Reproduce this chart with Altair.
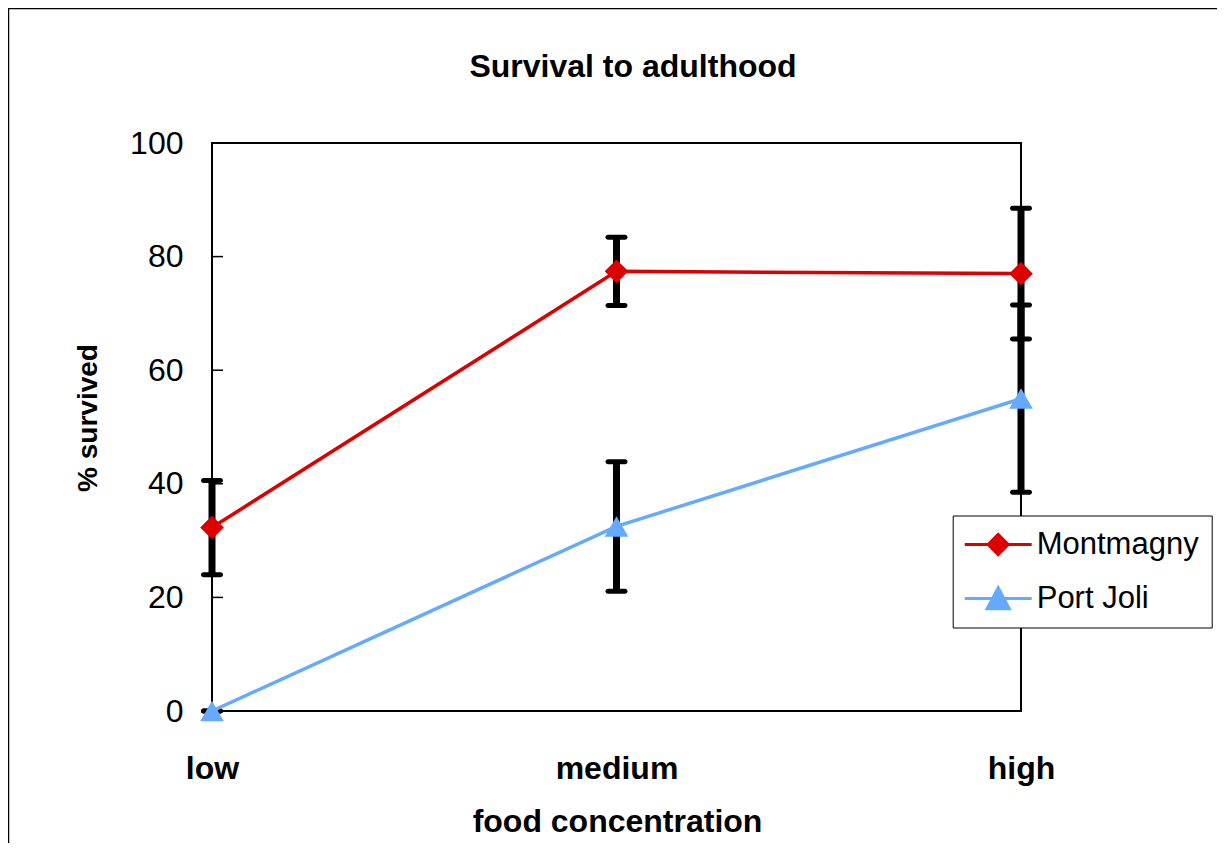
import altair as alt
import pandas as pd

# ---- data ----
groups = ["low", "medium", "high"]
series_names = ["Montmagny", "Port Joli"]
montmagny = [32.3, 77.4, 77.0]
montmagny_err = [8.3, 6.0, 11.5]
port_joli = [0.0, 32.5, 55.0]
port_joli_err = [0.0, 11.4, 16.5]
y_ticks = [0, 20, 40, 60, 80, 100]
colors = ["#DD0000", "#66AAFF"]

rows = []
for name, vals, errs in [(series_names[0], montmagny, montmagny_err),
                         (series_names[1], port_joli, port_joli_err)]:
    for g, v, e in zip(groups, vals, errs):
        rows.append({"group": g, "series": name, "value": v, "lo": v - e, "hi": v + e})
df = pd.DataFrame(rows)
ticks_df = pd.DataFrame({"tick": y_ticks})
frame_df = pd.DataFrame({"one": [1]})

W, H = 809, 568
PAD = {"left": 204, "top": 135, "right": 196, "bottom": 132}

FONT = "Liberation Sans"

x_axis = alt.Axis(
    title="food concentration", labelFont=FONT, labelFontWeight="bold", labelFontSize=32,
    labelColor="black", labelPadding=42, ticks=False, tickSize=0, domain=False,
    labelAngle=0, titleFont=FONT, titleFontWeight="bold", titleFontSize=32,
    titleColor="black", titleX=405, titleY=120, titleBaseline="alphabetic",
    titleAnchor="middle", grid=False,
)
y_axis = alt.Axis(
    title="% survived", values=y_ticks, labelFont=FONT, labelFontSize=32,
    labelColor="black", labelPadding=29, ticks=False, tickSize=0, domain=False,
    grid=False, titleFont=FONT, titleFontWeight="bold", titleFontSize=28,
    titleColor="black", titleAngle=-90, titleX=-124, titleY=274.5,
    titleBaseline="middle", titleAlign="center",
)
x_enc = alt.X("group:N", sort=groups, scale=alt.Scale(type="point", padding=0), axis=x_axis)
y_scale = alt.Scale(domain=[0, 100], nice=False, zero=True)
color_scale = alt.Scale(domain=series_names, range=colors)

base = alt.Chart(df)

frame = alt.Chart(frame_df).mark_rect(fillOpacity=0, stroke="black", strokeWidth=1.5).encode(
    x=alt.value(-203.5), x2=alt.value(1100), y=alt.value(-134.5), y2=alt.value(900)
)

inner_ticks = alt.Chart(ticks_df).mark_rule(color="black", strokeWidth=1.5).encode(
    y=alt.Y("tick:Q", scale=y_scale, axis=y_axis),
    x=alt.value(0), x2=alt.value(11),
)

err_rule = base.mark_rule(color="black", strokeWidth=7).encode(
    x=x_enc,
    y=alt.Y("lo:Q", scale=y_scale, axis=y_axis),
    y2="hi:Q",
)
cap_lo = base.mark_tick(color="black", opacity=1, thickness=5, size=22, cornerRadius=2.5,
                        orient="horizontal").encode(
    x=x_enc, y=alt.Y("lo:Q", scale=y_scale, axis=y_axis)
)
cap_hi = base.mark_tick(color="black", opacity=1, thickness=5, size=22, cornerRadius=2.5,
                        orient="horizontal").encode(
    x=x_enc, y=alt.Y("hi:Q", scale=y_scale, axis=y_axis)
)

lines = base.mark_line(strokeWidth=3.5).encode(
    x=x_enc,
    y=alt.Y("value:Q", scale=y_scale, axis=y_axis),
    color=alt.Color("series:N", scale=color_scale, legend=None),
    detail="series:N",
)

points = base.mark_point(filled=True, size=560, opacity=1).encode(
    x=x_enc,
    y=alt.Y("value:Q", scale=y_scale, axis=y_axis),
    color=alt.Color("series:N", scale=color_scale, legend=None),
    shape=alt.Shape("series:N", scale=alt.Scale(domain=series_names, range=["diamond", "triangle-up"]), legend=None),
)

diamond_path = "M-2.233,0L2.233,0M0,-0.67L0.67,0L0,0.67L-0.67,0Z"
triangle_path = "M-2.233,0L2.233,0M0,-0.72L0.74,0.68L-0.74,0.68Z"

legend = alt.Legend(
    title=None, orient="none", legendX=740.7, legendY=372.5,
    fillColor="white", strokeColor="black", padding=12.5, rowPadding=20,
    symbolSize=900, symbolStrokeWidth=3, symbolOffset=16.5, symbolOpacity=1,
    labelOffset=22, labelFont=FONT, labelFontSize=31, labelColor="black",
    labelLimit=400,
)
legend_layer = base.mark_point(filled=True, opacity=0, strokeWidth=3).encode(
    x=x_enc,
    y=alt.Y("value:Q", scale=y_scale, axis=y_axis),
    color=alt.Color("series:N", scale=color_scale, legend=legend),
    stroke=alt.Stroke("series:N", scale=color_scale, legend=legend),
    shape=alt.Shape("series:N", scale=alt.Scale(domain=series_names, range=[diamond_path, triangle_path]), legend=legend),
)

chart = alt.layer(
    frame, inner_ticks, err_rule, cap_lo, cap_hi, lines, points, legend_layer
).resolve_scale(
    color="independent", stroke="independent", shape="independent"
).properties(
    width=W, height=H,
    title=alt.Title("Survival to adulthood", font=FONT, fontSize=32, fontWeight="bold",
                    color="black", anchor="middle", dx=16.5, offset=-101,
                    baseline="alphabetic"),
    autosize=alt.AutoSizeParams(type="none"),
    padding=PAD,
).configure_view(
    stroke="black", strokeWidth=2
)

chart.save("out.html", embed_options={"renderer": "svg", "actions": False})
